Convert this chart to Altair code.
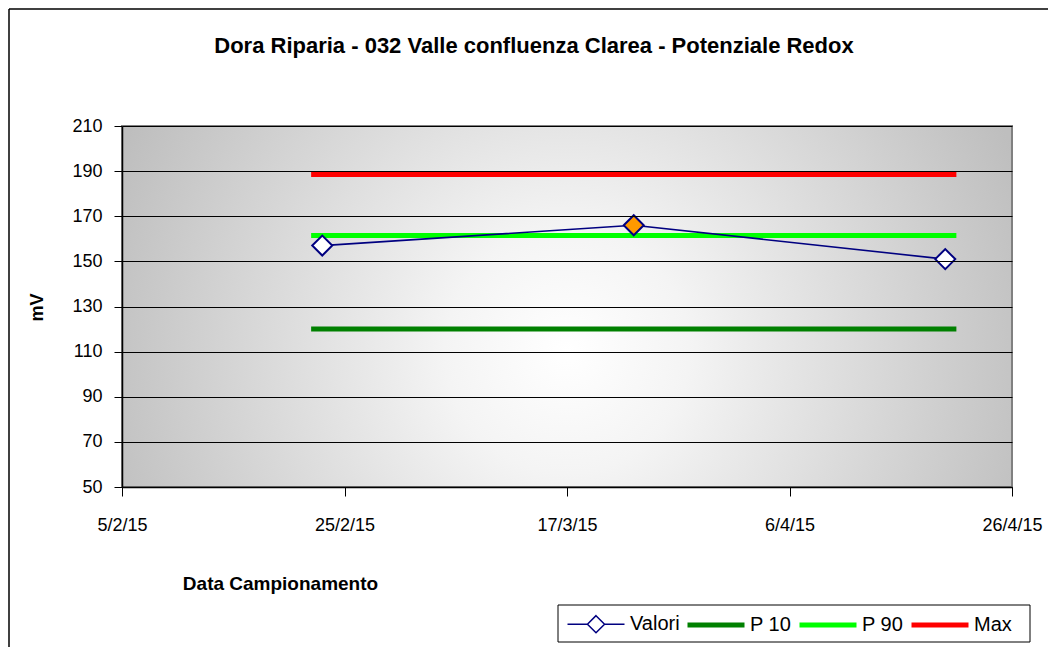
import altair as alt
import pandas as pd

# ---- data ----
date_campioni = ["2015-02-23", "2015-03-23", "2015-04-20"]
valori = [157, 166, 151]
evidenziato = ["no", "si", "no"]

soglie_nomi = ["P 10", "P 90", "Max"]
soglie_valori = [120, 161.5, 188.5]
soglie_date = ["2015-02-22", "2015-04-21"]

serie_nomi = ["Valori", "P 10", "P 90", "Max"]
serie_colori = ["#000080", "#008000", "#00FF00", "#FF0000"]

x_ticks = ["2015-02-05", "2015-02-25", "2015-03-17", "2015-04-06", "2015-04-26"]
y_ticks = [50, 70, 90, 110, 130, 150, 170, 190, 210]

FONT = "Liberation Sans"
W, H = 890, 361
PAD = {"left": 114, "top": 118, "right": 36, "bottom": 160}


def dt(s):
    y, m, d = (int(v) for v in s.split("-"))
    return alt.DateTime(year=y, month=m, date=d)


df_val = pd.DataFrame({
    "data": [d + "T00:00:00" for d in date_campioni],
    "mV": valori,
    "serie": ["Valori"] * len(valori),
    "evidenziato": evidenziato,
})

rows = []
for nome, v in zip(soglie_nomi, soglie_valori):
    for d in soglie_date:
        rows.append({"data": d + "T00:00:00", "mV": v, "serie": nome})
df_soglie = pd.DataFrame(rows)

x_enc = alt.X(
    "data:T",
    scale=alt.Scale(domain=[dt(x_ticks[0]), dt(x_ticks[-1])]),
    axis=alt.Axis(
        values=[dt(t) for t in x_ticks],
        format="%-d/%-m/%y", labelFlush=False,
        labelFont=FONT, labelFontSize=18, labelColor="black",
        labelPadding=20, tickSize=9, tickColor="black", tickWidth=1,
        domainColor="black", domainWidth=1.5, grid=False,
        title="Data Campionamento", titleFont=FONT, titleFontSize=19,
        titleFontWeight="bold", titleColor="black",
        titleX=158, titleY=96, titleAlign="center", titleBaseline="middle",
        titleAngle=0, zindex=1,
    ),
)
y_enc = alt.Y(
    "mV:Q",
    scale=alt.Scale(domain=[y_ticks[0], y_ticks[-1]], nice=False, zero=False),
    axis=alt.Axis(
        values=y_ticks,
        labelFont=FONT, labelFontSize=18, labelColor="black",
        labelPadding=12, tickSize=8, tickColor="black",
        domainColor="black", domainWidth=1.5,
        grid=True, gridColor="black", gridWidth=1, gridOpacity=1,
        title="mV", titleFont=FONT, titleFontSize=18, titleFontWeight="bold",
        titleColor="black", titleX=-85, titleY=181, titleAngle=270,
        titleAlign="center", titleBaseline="middle", zindex=1,
    ),
)

valori_path = "M-3,0H-0.9M0.9,0H3M0,-0.9L0.9,0L0,0.9L-0.9,0Z"
legenda = alt.Legend(
    orient="none", legendX=436, legendY=479, direction="horizontal",
    title=None, labelFont=FONT, labelFontSize=20, labelColor="black",
    labelOffset=24, symbolOffset=19, columnPadding=-3, padding=9,
    symbolSize=361,
    symbolType=alt.ExprRef(expr="datum.value === 'Valori' ? '" + valori_path + "' : 'M-3,0H3'"),
    symbolStrokeWidth=alt.ExprRef(expr="datum.value === 'Valori' ? 1.5 : 5"),
    symbolFillColor=alt.ExprRef(expr="datum.value === 'Valori' ? 'white' : 'transparent'"),
)
color_enc = alt.Color(
    "serie:N",
    scale=alt.Scale(domain=serie_nomi, range=serie_colori),
    legend=legenda,
)

gradiente = {
    "gradient": "radial",
    "x1": 0.5, "y1": 0.55, "r1": 0,
    "x2": 0.5, "y2": 0.55, "r2": 0.55,
    "stops": [
        {"offset": 0, "color": "#ffffff"},
        {"offset": 0.25, "color": "#f4f4f4"},
        {"offset": 1, "color": "#bebebe"},
    ],
}

uno = pd.DataFrame({"k": [0]})

sfondo = alt.Chart(uno).mark_rect(
    fill=gradiente, stroke="#808080", strokeWidth=2
).encode(
    x=alt.value(0), x2=alt.value("width"), y=alt.value(0), y2=alt.value("height")
)

# chart frame (left and top edges) and legend box
bordo_sx = alt.Chart(uno).mark_rule(color="black", strokeWidth=1.5).encode(
    x=alt.value(-113), y=alt.value(-117), y2=alt.value(H + PAD["bottom"])
)
bordo_top = alt.Chart(uno).mark_rule(color="black", strokeWidth=1.5).encode(
    x=alt.value(-113), x2=alt.value(W + PAD["right"]), y=alt.value(-117)
)
box_legenda = alt.Chart(uno).mark_rect(
    fill="white", stroke="black", strokeWidth=1
).encode(
    x=alt.value(436), x2=alt.value(908), y=alt.value(479), y2=alt.value(516)
)

linee_soglia = alt.Chart(df_soglie).mark_line().encode(
    x=x_enc, y=y_enc, color=color_enc, strokeWidth=alt.value(5)
)

linea_valori = alt.Chart(df_val).mark_line().encode(
    x=x_enc, y=y_enc, color=color_enc, strokeWidth=alt.value(1.6)
)

punti = alt.Chart(df_val).mark_point(
    shape="diamond", filled=True, size=400, stroke="#000080",
    strokeWidth=2, opacity=1
).encode(
    x=x_enc, y=y_enc,
    fill=alt.Fill("evidenziato:N",
                  scale=alt.Scale(domain=["no", "si"], range=["#FFFFFF", "#FF9900"]),
                  legend=None),
)

chart = alt.layer(
    bordo_sx, bordo_top, box_legenda, sfondo, linee_soglia, linea_valori, punti
).properties(
    width=W, height=H,
    padding=PAD,
    autosize=alt.AutoSizeParams(type="none"),
    background="white",
    title=alt.TitleParams(
        "Dora Riparia - 032 Valle confluenza Clarea  - Potenziale Redox",
        font=FONT, fontSize=22, fontWeight="bold", color="black",
        anchor="middle", frame="group", dx=-33, offset=-50,
    ),
).configure_view(stroke=None)

chart.save("out.html", embed_options={"renderer": "svg", "actions": False})
